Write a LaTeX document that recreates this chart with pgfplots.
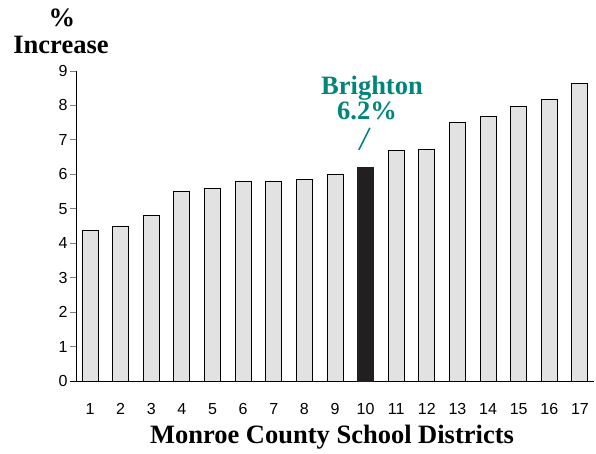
\documentclass[border=0pt]{standalone}
\usepackage{pgfplots}
\pgfplotsset{compat=1.18}
\usepackage{fontspec}
\setmainfont{Liberation Serif}
\newfontfamily\tickfont{Liberation Sans}
\definecolor{brightteal}{HTML}{00857A}
\definecolor{barfill}{HTML}{E2E2E2}
\definecolor{barblack}{HTML}{231F20}
\begin{document}
\begin{tikzpicture}[x=1pt,y=1pt]
\useasboundingbox (-76,-73) rectangle (520,381);
\begin{axis}[
  at={(0,0)}, anchor=south west,
  scale only axis, width=518pt, height=310pt,
  xmin=0.543, xmax=17.46, ymin=0, ymax=9,
  axis x line*=bottom, axis y line*=left,
  axis line style={-, line width=0.8pt},
  xtick={1,...,17}, ytick={0,...,9},
  x tick style={draw=none},
  y tick style={line width=0.8pt},
  tick align=outside, major tick length=6pt,
  xticklabel style={font=\tickfont\fontsize{16}{19}\selectfont, yshift=-13pt},
  yticklabel style={font=\tickfont\fontsize{16}{19}\selectfont, xshift=1pt},
  /pgf/number format/assume math mode=true,
  clip=false,
]
\addplot[ybar, bar width=16pt, fill=barfill, draw=black, line width=0.9pt]
  coordinates {(1,4.37) (2,4.5) (3,4.8) (4,5.5) (5,5.6) (6,5.8) (7,5.8) (8,5.85) (9,6.0)
               (11,6.7) (12,6.73) (13,7.5) (14,7.68) (15,7.97) (16,8.17) (17,8.63)};
\addplot[ybar, bar width=16pt, fill=barblack, draw=barblack, line width=0.9pt]
  coordinates {(10,6.2)};
\draw[brightteal, line width=1.6pt] (axis cs:9.78,6.71) -- (axis cs:10.14,7.35);
\end{axis}
\draw[line width=0.8pt] (-6,0) -- (0,0);
\node[font=\fontsize{26.5}{30}\selectfont\bfseries] at (-14,363) {\%};
\node[font=\fontsize{26.5}{30}\selectfont\bfseries] at (-15,336) {Increase};
\node[font=\fontsize{26.5}{30}\selectfont\bfseries] at (256,-56) {Monroe County School Districts};
\node[font=\fontsize{26.5}{30}\selectfont\bfseries, text=brightteal] at (296,293) {Brighton};
\node[font=\fontsize{26.5}{30}\selectfont\bfseries, text=brightteal] at (291,270) {6.2\%};
\end{tikzpicture}
\end{document}
